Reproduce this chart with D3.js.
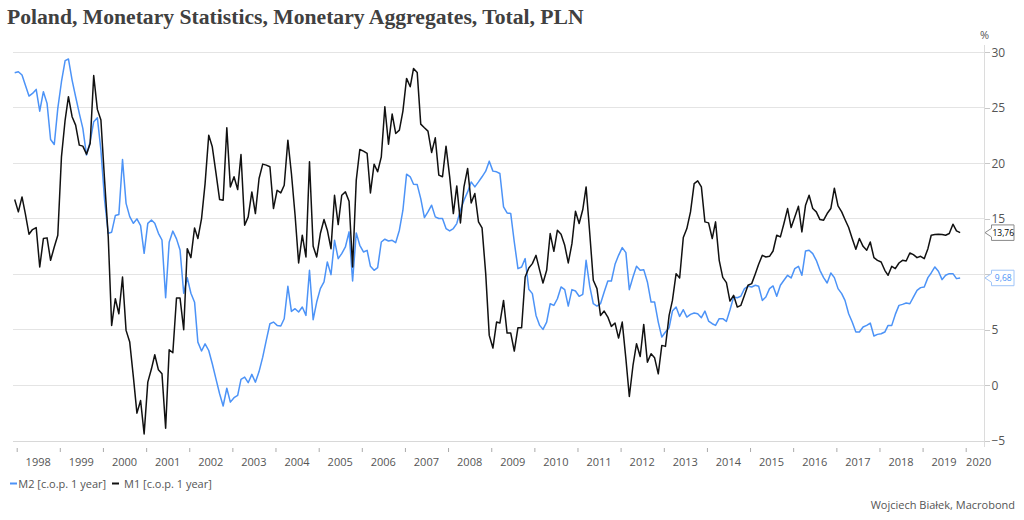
<!DOCTYPE html>
<html>
<head>
<meta charset="utf-8">
<script src="https://cdn.jsdelivr.net/npm/d3@7"></script>
<style>
  html, body { margin: 0; padding: 0; background: #fff; }
  svg { display: block; }
</style>
</head>
<body>
<svg id="chart" width="1024" height="520"></svg>
<script>
// ---------------- data ----------------
const title = "Poland, Monetary Statistics, Monetary Aggregates, Total, PLN";
const startMonth = [1997, 11]; // December 1997 (month index 11), monthly observations
const seriesNames = ["M2 [c.o.p. 1 year]", "M1 [c.o.p. 1 year]"];
const seriesColors = ["#4c93f7", "#111111"];

const m2Values = [
  28.16, 28.25, 27.95, 27.05, 26.06, 26.3, 26.66, 24.7, 26.45, 25.4,
  22.15, 21.7, 24.95, 27.35, 29.25, 29.4, 27.5, 26, 24.5, 23.15,
  20.75, 21.95, 23.75, 24.1, 21.2, 16.7, 13.7, 13.8, 15.3, 15.4,
  20.35, 16.4, 15.2, 14.6, 15.0, 14.4, 11.9, 14.6, 14.9, 14.6,
  13.7, 13.1, 7.9, 12.9, 13.9, 13.2, 12.2, 8.3, 9.7, 8.3,
  7.5, 3.9, 3.1, 3.75, 3.15, 1.95, 0.6, -0.75, -1.85, -0.25,
  -1.5, -1.1, -0.9, 0.55, 0.75, 0.25, 1.0, 0.3, 1.25,
  2.55, 4.06, 5.56, 5.71, 5.41, 5.35, 6.01, 8.93, 6.67, 6.91, 6.61,
  7.06, 6.31, 10.37, 5.92, 7.51, 8.72, 9.32, 11.12, 9.98, 13.07,
  11.42, 11.87, 12.47, 13.83, 9.41, 13.74, 12.62, 12.02, 12.17, 10.73,
  10.37, 10.61, 12.92, 13.17, 13.01, 13.07, 12.86, 13.98, 15.78, 19.03,
  18.79, 18.12, 18.09, 16.83, 15.12, 15.63, 16.23, 15.18, 15.03, 15.03,
  14.13, 13.92, 14.13, 14.58, 15.78, 16.68, 17.43, 18.33, 17.88, 18.33,
  18.79, 19.3, 20.2, 19.3, 19.24, 19.09, 16.08, 15.54, 15.48, 12.92,
  10.52, 10.67, 11.42, 8.66, 8.27, 6.31, 5.41, 5.05, 5.71, 7.36,
  7.21, 7.81, 8.87, 8.63, 7.15, 8.63, 8.51, 8.03, 8.21, 11.27,
  8.93, 7.36, 7.15, 7.36, 8.42, 9.41, 9.41, 10.91, 11.72, 12.41,
  11.96, 8.63, 9.77, 10.73, 10.37, 10.43, 9.32, 7.51, 7.51, 5.71,
  4.36, 4.81, 5.2, 6.7, 7.06, 6.22, 6.82, 6.16, 6.4, 6.52,
  6.46, 6.1, 6.7, 5.8, 5.56, 5.41, 6.01, 6.01, 5.77, 6.8,
  7.96, 7.9, 8.03, 8.72, 8.93, 8.87, 9.02, 8.93, 7.66, 7.96,
  8.72, 8.96, 8.03, 9.02, 9.47, 9.92, 9.68, 10.52, 10.73, 9.92,
  12.11, 12.17, 11.87, 11.27, 10.37, 9.71, 9.23, 10.13, 9.71, 8.72,
  8.27, 7.66, 6.46, 5.71, 4.81, 4.81, 5.26, 5.41, 5.62, 4.45,
  4.6, 4.66, 4.81, 5.41, 5.41, 6.4, 7.21, 7.3, 7.42, 7.36,
  7.96, 8.57, 8.81, 8.87, 9.71, 10.13, 10.67, 10.28, 9.53, 9.92,
  10.07, 10.07, 9.62, 9.68
];

const m1Values = [
  16.74, 15.63, 16.98, 15.48, 13.62, 14.04, 14.22, 10.67, 13.23, 13.29,
  11.27, 12.47, 13.53, 20.59, 23.9, 26.0, 24.2, 23.44, 21.64, 21.55,
  20.83, 21.79, 27.9, 24.86, 23.9, 18.49, 13.38, 5.41, 7.81, 6.46,
  9.77, 4.96, 3.91, 0.75, -2.49, -1.35, -4.36, 0.3, 1.5, 2.77,
  1.41, 1.05, -3.85, 3.22, 2.95, 7.87, 7.87, 5.02, 12.32, 11.51,
  14.19, 13.23, 15.03, 18.18, 22.54, 21.49, 19.15, 16.74, 16.68, 23.2,
  17.88, 18.79, 17.64, 20.8, 14.43, 15.18, 17.43, 15.48, 18.64, 19.93,
  19.84, 19.69, 15.93, 17.58, 17.34, 18.03, 22.09, 19.09, 15.33, 11.03,
  13.53, 11.57, 20.14, 12.53, 11.57, 13.68, 14.94, 13.98, 12.32, 17.13,
  14.49, 17.13, 17.43, 16.59, 10.67, 18.49, 21.25, 21.1, 20.89, 17.34,
  19.93, 19.24, 20.59, 25.1, 21.73, 24.44, 22.69, 22.99, 24.71, 27.65,
  26.9, 28.55, 28.19, 23.53, 23.2, 22.9, 20.98, 22.3, 18.94, 18.79,
  21.55, 18.79, 15.48, 17.97, 14.64, 17.88, 19.54, 16.44, 17.28, 14.73,
  14.19, 10.07, 4.51, 3.37, 5.71, 5.62, 7.66, 4.72, 4.72, 3.1,
  5.2, 5.2, 9.77, 10.58, 10.97, 11.72, 10.37, 9.23, 10.37, 13.68,
  12.08, 13.98, 13.62, 12.62, 11.03, 12.77, 15.69, 14.58, 15.84, 17.88,
  13.68, 9.47, 8.72, 6.31, 6.7, 6.16, 5.32, 5.62, 4.27, 5.71,
  2.4, -0.99, 1.8, 3.76, 2.61, 5.5, 2.1, 2.86, 2.49, 1.05,
  3.61, 3.52, 6.31, 7.66, 10.07, 9.68, 13.32, 14.13, 15.63, 18.18,
  18.42, 17.88, 14.73, 14.64, 13.23, 14.73, 11.27, 9.74, 9.26, 7.6,
  8.12, 7.06, 7.21, 8.12, 9.02, 9.17, 10.07, 10.91, 11.72, 11.57,
  11.63, 12.11, 13.53, 13.38, 14.58, 15.93, 14.22, 15.18, 16.14, 13.83,
  16.23, 17.13, 15.93, 15.63, 14.94, 14.88, 15.48, 15.93, 17.76, 16.17,
  15.63, 14.94, 14.22, 13.23, 12.26, 13.23, 12.53, 12.17, 12.92, 11.51,
  11.27, 11.12, 10.37, 9.92, 10.73, 10.52, 11.03, 11.27, 11.21, 11.93,
  11.78, 11.51, 11.63, 11.42, 12.32, 13.53, 13.59, 13.62, 13.59, 13.53,
  13.68, 14.52, 13.92, 13.76
];

const lastLabels = ["9,68", "13,76"];
const yTicks = [-5, 0, 5, 10, 15, 20, 25, 30];
const xTickYears = d3.range(1998, 2021);
const yUnit = "%";
const credit = "Wojciech Białek, Macrobond";

// ---------------- layout ----------------
const svg = d3.select("#chart");
const plotLeft = 13, plotRight = 984.5;
const font = "'Open Sans', 'Noto Sans', sans-serif";
const textColor = "#555";

const x = d3.scaleTime()
  .domain([new Date(1998, 0, 1), new Date(2020, 0, 1)])
  .range([16.7, 965.7]);
const y = d3.scaleLinear().domain([-5, 30]).range([441, 52.3]);

const dateOf = i => new Date(startMonth[0], startMonth[1] + i, 15);
const series = [m2Values, m1Values].map(vals => vals.map((v, i) => ({ date: dateOf(i), value: v })));
const lastYs = series.map(s => y(s[s.length - 1].value));

// title
const titleText = svg.append("text")
  .attr("x", 7).attr("y", 23.5)
  .attr("font-family", "'Liberation Serif', 'DejaVu Serif', serif")
  .attr("font-weight", "bold")
  .attr("font-size", 20)
  .attr("fill", "#404040")
  .text(title);
const tw = titleText.node().getComputedTextLength();
titleText.attr("font-size", 20 * 577 / tw);

// gridlines
svg.append("g").selectAll("line").data(yTicks).join("line")
  .attr("x1", plotLeft).attr("x2", plotRight)
  .attr("y1", d => y(d)).attr("y2", d => y(d))
  .attr("stroke", "#e4e4e4").attr("stroke-width", 1)
  .attr("shape-rendering", "crispEdges");

// right axis
const yAxis = d3.axisRight(y).tickValues(yTicks).tickSize(5).tickPadding(2);
const gy = svg.append("g").attr("transform", `translate(${plotRight},0)`).call(yAxis);
gy.select(".domain").remove();
gy.append("line").attr("x1", 0).attr("x2", 0).attr("y1", 45).attr("y2", 447)
  .attr("stroke", "#dcdcdc").attr("shape-rendering", "crispEdges");
gy.selectAll(".tick line").attr("stroke", "#c8c8c8").attr("shape-rendering", "crispEdges");
gy.selectAll(".tick text").attr("font-family", font).attr("font-size", 12).attr("fill", textColor);
// tick labels hidden behind the last-value callouts (as in the reference)
gy.selectAll(".tick").filter(d => lastYs.some(ly => Math.abs(ly - y(d)) < 9)).select("text").remove();

svg.append("text").attr("x", plotRight).attr("y", 39)
  .attr("text-anchor", "middle").attr("font-family", font).attr("font-size", 11)
  .attr("fill", textColor).text(yUnit);

// bottom axis (ticks at year boundaries, labels centred in years)
const xAxis = d3.axisBottom(x).tickValues(xTickYears.map(yy => new Date(yy, 0, 1))).tickSize(4).tickFormat("");
const gx = svg.append("g").attr("transform", "translate(0,448)").call(xAxis);
gx.select(".domain").remove();
gx.selectAll(".tick line").attr("stroke", "#aaa");
svg.append("line").attr("x1", plotLeft).attr("x2", plotRight).attr("y1", 441).attr("y2", 441)
  .attr("stroke", "#d8d8d8").attr("shape-rendering", "crispEdges");

svg.append("g").selectAll("text").data(xTickYears).join("text")
  .attr("x", d => d < 2020 ? x(new Date(d, 6, 2)) : x(new Date(d, 0, 1)) + 13)
  .attr("y", 466)
  .attr("text-anchor", "middle")
  .attr("font-family", font).attr("font-size", 11).attr("fill", textColor)
  .text(d => d);

// lines
const line = d3.line().x(d => x(d.date)).y(d => y(d.value));
svg.append("g").selectAll("path").data(series).join("path")
  .attr("d", line)
  .attr("fill", "none")
  .attr("stroke", (d, i) => seriesColors[i])
  .attr("stroke-width", 1.5)
  .attr("stroke-linejoin", "round");

// last-value callouts
const boxX0 = 991.5, boxX1 = 1014, boxH = 15.5, tipX = 985;
const callouts = svg.append("g");
series.forEach((s, i) => {
  const cy = lastYs[i];
  const top = cy - boxH / 2, bot = cy + boxH / 2;
  const p = `M${tipX},${cy} L${boxX0},${cy - 4.3} L${boxX0},${top} L${boxX1},${top} L${boxX1},${bot} L${boxX0},${bot} L${boxX0},${cy + 4.3} Z`;
  callouts.append("path").attr("d", p)
    .attr("fill", "#fff")
    .attr("stroke", i === 0 ? "#9fc4f8" : "#8a8a8a")
    .attr("stroke-width", 1);
  callouts.append("text")
    .attr("x", (boxX0 + boxX1) / 2 + 0.5).attr("y", cy + 3)
    .attr("text-anchor", "middle")
    .attr("font-family", font).attr("font-size", 8.5)
    .attr("fill", i === 0 ? seriesColors[0] : "#000")
    .text(lastLabels[i]);
});

// legend
const legend = svg.append("g");
const legendPos = [[10, 18.3], [112, 124]];
seriesNames.forEach((name, i) => {
  legend.append("line")
    .attr("x1", legendPos[i][0]).attr("x2", legendPos[i][0] + 7)
    .attr("y1", 483.5).attr("y2", 483.5)
    .attr("stroke", seriesColors[i]).attr("stroke-width", 2);
  legend.append("text")
    .attr("x", legendPos[i][1]).attr("y", 487.5)
    .attr("font-family", font).attr("font-size", 11).attr("fill", textColor)
    .text(name);
});

// credit
svg.append("text").attr("x", 1015).attr("y", 509)
  .attr("text-anchor", "end")
  .attr("font-family", font).attr("font-size", 11).attr("fill", textColor)
  .text(credit);
</script>
</body>
</html>
